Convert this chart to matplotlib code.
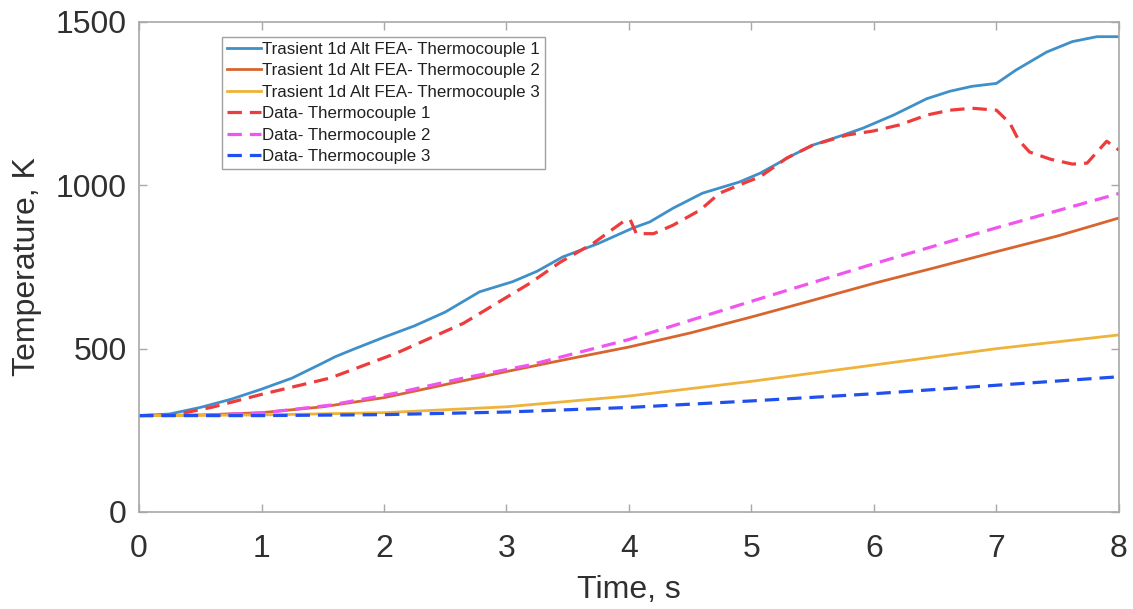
import matplotlib
matplotlib.use("Agg")
import matplotlib.pyplot as plt

plt.rcParams['font.family'] = ['Liberation Sans', 'DejaVu Sans']

# FEA model, thermocouple 1
t_fea1 = [0, 0.25, 0.5, 0.75, 1.0, 1.25, 1.5, 1.6, 1.75, 2.0, 2.25, 2.5, 2.78, 3.05,
          3.25, 3.46, 3.75, 4.03, 4.17, 4.36, 4.6, 4.9, 5.07, 5.34, 5.5, 5.75, 5.91,
          6.16, 6.43, 6.62, 6.8, 7.0, 7.16, 7.41, 7.62, 7.82, 8.0]
T_fea1 = [295, 300, 320, 345, 376, 410, 456, 475, 498, 535, 570, 612, 674, 705,
          737, 781, 822, 869, 888, 930, 976, 1010, 1037, 1093, 1123, 1154, 1175,
          1215, 1265, 1288, 1303, 1312, 1353, 1408, 1440, 1455, 1455]

# FEA model, thermocouple 2
t_fea2 = [0, 0.5, 1, 1.5, 2, 2.5, 3, 3.5, 4, 4.5, 5, 5.5, 6, 6.5, 7, 7.5, 8]
T_fea2 = [295, 297, 304, 322, 350, 390, 430, 468, 505, 548, 597, 648, 700, 748, 797, 845, 900]

# FEA model, thermocouple 3
t_fea3 = [0, 1, 2, 3, 4, 5, 6, 7, 8]
T_fea3 = [295, 297, 304, 322, 355, 400, 450, 500, 542]

# Measured, thermocouple 1
t_dat1 = [0, 0.3, 0.6, 1.0, 1.56, 2.1, 2.65, 3.19, 3.44, 3.71, 3.95, 4.01, 4.06,
          4.2, 4.36, 4.58, 4.74, 4.96, 5.07, 5.29, 5.5, 5.78, 5.99, 6.21, 6.43,
          6.62, 6.8, 7.0, 7.11, 7.18, 7.27, 7.44, 7.62, 7.74, 7.9, 8.0]
T_dat1 = [295, 298, 321, 360, 410, 486, 578, 700, 765, 823, 888, 895, 852,
          852, 878, 924, 976, 1010, 1026, 1084, 1123, 1154, 1166, 1185, 1215,
          1230, 1236, 1230, 1190, 1139, 1102, 1080, 1065, 1068, 1135, 1108]

# Measured, thermocouple 2
t_dat2 = [0, 0.5, 1.0, 1.56, 2.1, 2.65, 3.19, 4.0, 5.0, 6.0, 7.0, 8.0]
T_dat2 = [295, 296, 303, 327, 364, 410, 450, 528, 645, 760, 870, 975]

# Measured, thermocouple 3
t_dat3 = [0, 1, 2, 3, 4, 5, 6, 7, 8]
T_dat3 = [295, 295, 298, 306, 320, 340, 362, 388, 414]

labels = ["Trasient 1d Alt FEA- Thermocouple 1",
          "Trasient 1d Alt FEA- Thermocouple 2",
          "Trasient 1d Alt FEA- Thermocouple 3",
          "Data- Thermocouple 1",
          "Data- Thermocouple 2",
          "Data- Thermocouple 3"]

x_ticks = [0, 1, 2, 3, 4, 5, 6, 7, 8]
y_ticks = [0, 500, 1000, 1500]

fig = plt.figure(figsize=(11.33, 6.09), dpi=100)
ax = fig.add_axes([0.1227, 0.1593, 0.8649, 0.8046])

dash = (4.5, 2.5)
ax.plot(t_fea1, T_fea1, color='#3F8FC9', lw=2.0, label=labels[0])
ax.plot(t_fea2, T_fea2, color='#D8652F', lw=2.0, label=labels[1])
ax.plot(t_fea3, T_fea3, color='#EEB33A', lw=2.0, label=labels[2])
ax.plot(t_dat1, T_dat1, color='#EE3B3B', lw=2.3, dashes=dash, label=labels[3])
ax.plot(t_dat2, T_dat2, color='#F055F0', lw=2.3, dashes=dash, label=labels[4])
ax.plot(t_dat3, T_dat3, color='#2050F0', lw=2.3, dashes=dash, label=labels[5])

ax.set_xlim(0, 8)
ax.set_ylim(0, 1500)
ax.set_xticks(x_ticks)
ax.set_yticks(y_ticks)

frame_col = '#A8A8A8'
for s in ax.spines.values():
    s.set_color(frame_col)
    s.set_linewidth(1.2)
ax.tick_params(direction='in', length=6, width=1.0, color=frame_col,
               top=True, right=True, labelsize=23, labelcolor='#303030')
ax.tick_params(axis='x', pad=16)
ax.tick_params(axis='y', pad=9)

ax.set_xlabel("Time, s", fontsize=23, color='#303030', labelpad=8)
ax.set_ylabel("Temperature, K", fontsize=23, color='#303030', labelpad=10)

leg = ax.legend(loc='upper left', bbox_to_anchor=(0.085, 0.97), borderaxespad=0,
                fontsize=12.2, handlelength=2.0, handletextpad=0.05,
                labelspacing=0.38, borderpad=0.3, fancybox=False, framealpha=1)
leg.get_frame().set_edgecolor('#A0A0A0')
leg.get_frame().set_linewidth(1.0)
for txt in leg.get_texts():
    txt.set_color('#202020')

fig.savefig("out.png", dpi=100)
